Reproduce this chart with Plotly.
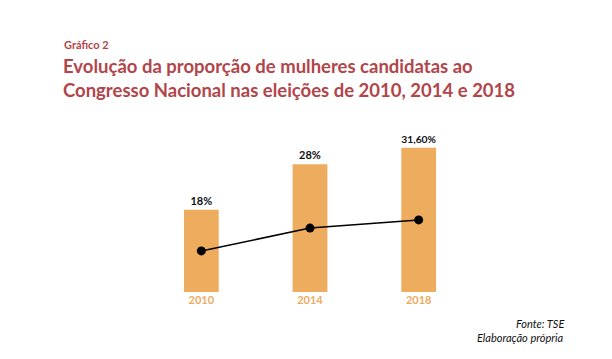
import plotly.graph_objects as go

anos = ["2010", "2014", "2018"]
proporcao = [18, 28, 31.6]
rotulos = ["18%", "28%", "31,60%"]

bar_color = "#EEAC5E"
tick_color = "#F0A95C"
title_color = "#B2454A"
font_family = "Lato, 'Open Sans', sans-serif"

fig = go.Figure()
fig.add_trace(go.Bar(
    x=anos, y=proporcao, text=rotulos, textposition="outside",
    textfont=dict(family=font_family, size=11, color="#111111", weight="bold"),
    marker=dict(color=bar_color, line=dict(width=0)), width=0.32,
    cliponaxis=False, showlegend=False,
))
fig.add_trace(go.Scatter(
    x=anos, y=proporcao, yaxis="y2", mode="lines+markers",
    line=dict(color="#000000", width=1.5),
    marker=dict(color="#000000", size=9), showlegend=False,
))

W, H = 612, 359
l, r, t, b = 147, 139, 130, 67

fig.update_layout(
    width=W, height=H,
    margin=dict(l=l, r=r, t=t, b=b),
    paper_bgcolor="white", plot_bgcolor="white",
    xaxis=dict(type="category", range=[-0.5, 2.5], showgrid=False, showline=False,
               ticks="", ticklen=2,
               tickfont=dict(family=font_family, size=11, color=tick_color, weight="bold")),
    yaxis=dict(range=[0, 35.5], visible=False),
    yaxis2=dict(range=[0, 71], visible=False, overlaying="y"),
)

pw, ph = W - l - r, H - t - b


def px(x, y):
    return (x - l) / pw, (H - b - y) / ph


annots = [
    ("<b>Gráfico 2</b>", 62, 45, "left", 11, title_color),
    ("<b>Evolução da proporção de mulheres candidatas ao<br>Congresso Nacional nas eleições de 2010, 2014 e 2018</b>",
     61, 78, "left", 18.5, title_color),
    ("<i>Fonte: TSE</i>", 566, 323, "right", 11, "#111111"),
    ("<i>Elaboração própria</i>", 566, 337, "right", 11, "#111111"),
]
for text, x, y, anchor, size, color in annots:
    ax, ay = px(x, y)
    fig.add_annotation(text=text, x=ax, y=ay, xref="paper", yref="paper", showarrow=False,
                       xanchor=anchor, yanchor="middle", align="left",
                       font=dict(family=font_family, size=size, color=color))

fig.write_html("out.html", config={"displayModeBar": False},
               post_script="document.body.style.margin='0';")
